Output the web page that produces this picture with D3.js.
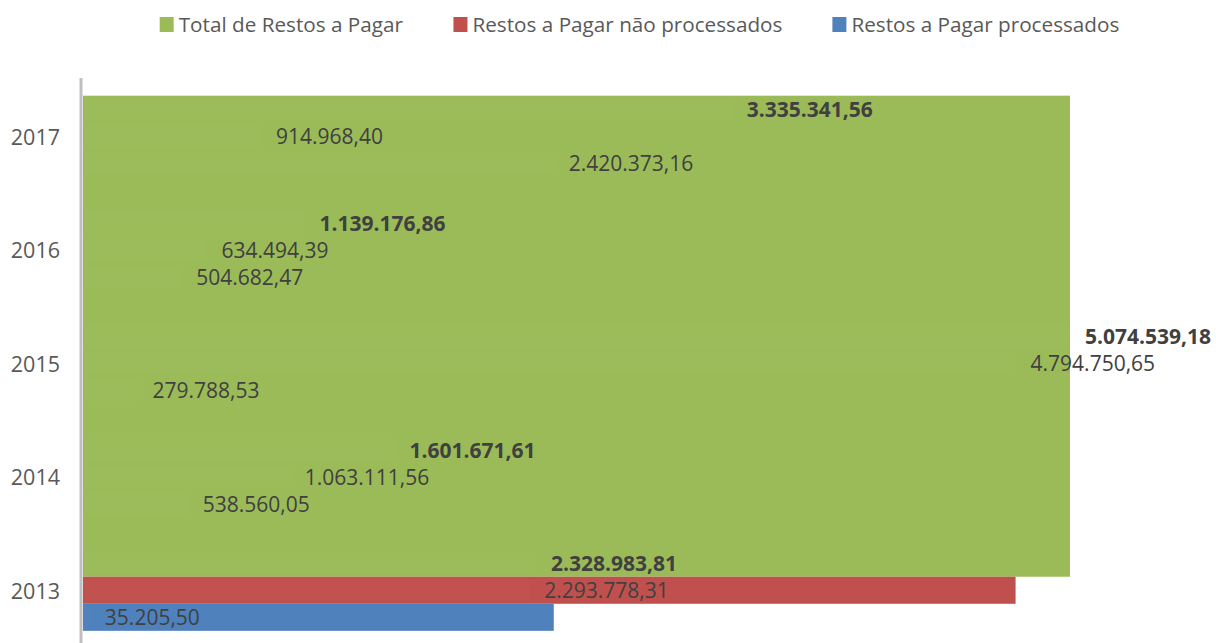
<!DOCTYPE html>
<html>
<head>
<meta charset="utf-8">
<script src="https://cdn.jsdelivr.net/npm/d3@7"></script>
<style>
  html, body { margin: 0; padding: 0; background: #fff; }
  svg { display: block; }
  text { font-family: "Open Sans", "Noto Sans", sans-serif; }
</style>
</head>
<body>
<svg id="chart" width="1216" height="643"></svg>
<script>
// ---- data ----
const years = ["2017", "2016", "2015", "2014", "2013"];
const seriesNames = ["Total de Restos a Pagar", "Restos a Pagar não processados", "Restos a Pagar processados"];
const totalValues = [3335341.56, 1139176.86, 5074539.18, 1601671.61, 2328983.81];
const naoProcessados = [914968.40, 634494.39, 4794750.65, 1063111.56, 2293778.31];
const processados = [2420373.16, 504682.47, 279788.53, 538560.05, 35205.50];
const seriesColors = ["#9BBB59", "#C0504D", "#4F81BD"];

const seriesValues = [totalValues, naoProcessados, processados];
const keys = ["total", "nao", "proc"];

const svg = d3.select("#chart");
const W = 1216, H = 643;

const x = d3.scaleLinear().domain([0, d3.max(totalValues)]).range([83, 1070]);
const y = d3.scaleBand().domain(years).range([79.5, 647]).paddingInner(0.285).paddingOuter(0.1425);
const ySub = d3.scaleBand().domain(keys).range([0, y.bandwidth()]);

const fmt = v => {
  const parts = v.toFixed(2).split(".");
  return parts[0].replace(/\B(?=(\d{3})+(?!\d))/g, ".") + "," + parts[1];
};

const rows = [];
years.forEach((yr, i) => {
  keys.forEach((k, s) => rows.push({ year: yr, key: k, s, value: seriesValues[s][i] }));
});

const lastYear = years[years.length - 1];
const firstYear = years[0];

// Oversized rendering of each series (as in the reference)
const overlays = [
  { s: 0, y0: y(firstYear) + ySub("total"), y1: y(lastYear) + ySub("total") + ySub.bandwidth(), v: d3.max(totalValues) },
  { s: 1, y0: y(lastYear) + ySub("nao"), y1: y(lastYear) + ySub("nao") + ySub.bandwidth(), v: d3.max(naoProcessados) },
  { s: 2, y0: y(lastYear) + ySub("proc"), y1: y(lastYear) + ySub("proc") + ySub.bandwidth(), v: d3.max(processados) }
];

svg.append("g").selectAll("rect").data(overlays).join("rect")
  .attr("x", x(0)).attr("y", d => d.y0)
  .attr("width", d => x(d.v) - x(0)).attr("height", d => d.y1 - d.y0)
  .attr("fill", d => seriesColors[d.s]);

// faint actual bars
svg.append("g").selectAll("rect").data(rows).join("rect")
  .attr("x", x(0))
  .attr("y", d => y(d.year) + ySub(d.key) + 3)
  .attr("width", d => x(d.value) - x(0))
  .attr("height", ySub.bandwidth() - 6)
  .attr("fill", "#ffffff").attr("fill-opacity", 0.015);

// axis line
svg.append("line").attr("x1", 81).attr("x2", 81).attr("y1", 78).attr("y2", H)
  .attr("stroke", "#BFBFBF").attr("stroke-width", 3);

// category labels
svg.append("g").selectAll("text").data(years).join("text")
  .attr("x", 60).attr("y", d => y(d) + y.bandwidth() / 2)
  .attr("text-anchor", "end").attr("dominant-baseline", "central")
  .attr("font-size", 21.5).attr("fill", "#595959")
  .text(d => d);

// data labels
svg.append("g").selectAll("text").data(rows).join("text")
  .attr("x", d => x(d.value) + 15)
  .attr("y", d => y(d.year) + ySub(d.key) + ySub.bandwidth() / 2)
  .attr("dominant-baseline", "central")
  .attr("font-size", 21)
  .attr("font-weight", d => d.key === "total" ? "bold" : "normal")
  .attr("fill", "#404040")
  .text(d => fmt(d.value));

// legend
const lg = svg.append("g");
const items = lg.selectAll("g").data(seriesNames).join("g");
items.append("rect").attr("width", 14).attr("height", 15).attr("y", 17)
  .attr("fill", (d, i) => seriesColors[i]);
items.append("text").attr("x", 19).attr("y", 24).attr("dominant-baseline", "central")
  .attr("font-size", 20.7).attr("fill", "#595959").text(d => d);
let widths = [];
items.each(function () { widths.push(this.getBBox().width); });
const gap = 50;
const totalW = d3.sum(widths) + gap * (widths.length - 1);
let cx = 639.5 - totalW / 2;
items.each(function (d, i) {
  d3.select(this).attr("transform", `translate(${cx},0)`);
  cx += widths[i] + gap;
});
</script>
</body>
</html>
